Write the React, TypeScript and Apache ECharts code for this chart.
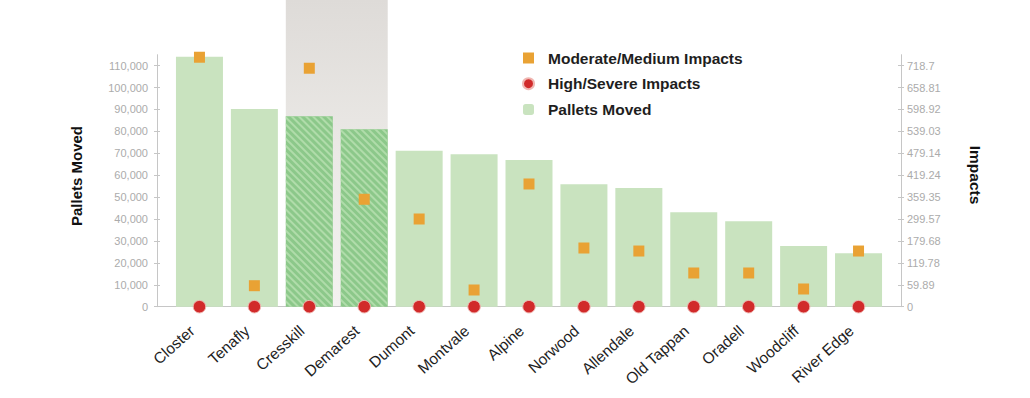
import React, { useEffect, useRef } from 'react';
import * as echarts from 'echarts';

const towns = ['Closter', 'Tenafly', 'Cresskill', 'Demarest', 'Dumont', 'Montvale', 'Alpine', 'Norwood', 'Allendale', 'Old Tappan', 'Oradell', 'Woodcliff', 'River Edge'];
const palletsMoved = [114100, 90200, 86900, 81000, 71200, 69550, 66950, 55850, 54200, 43100, 39000, 27700, 24400];
const moderateImpacts = [743.8, 62.6, 711, 320.3, 261.5, 49.8, 365.9, 175, 166, 100.5, 100.5, 52.8, 166];
const highImpacts = [0, 0, 0, 0, 0, 0, 0, 0, 0, 0, 0, 0, 0];
const highlightedTowns = ['Cresskill', 'Demarest'];
const palletTicks = [0, 10000, 20000, 30000, 40000, 50000, 60000, 70000, 80000, 90000, 100000, 110000];
const impactTickLabels = ['0', '59.89', '119.78', '179.68', '299.57', '359.35', '419.24', '479.14', '539.03', '598.92', '658.81', '718.7'];

const PALLET_MAX = 115000;
const IMPACT_TOP = 718.7;
const IMPACT_STEP = IMPACT_TOP / (impactTickLabels.length - 1);
const IMPACT_MAX = IMPACT_TOP * PALLET_MAX / palletTicks[palletTicks.length - 1];
const impactTicks = impactTickLabels.map((_, i) => i * IMPACT_STEP);

const FONT = '"Liberation Sans", Arial, Helvetica, sans-serif';
const GREEN = '#c9e3bf';
const GREEN_HATCH = '#8cc88a';
const ORANGE = '#e9a234';
const RED = '#d12a2a';
const AXIS = '#c6c6c6';
const LABEL = '#ababab';

export default function App() {
  const ref = useRef<HTMLDivElement>(null);

  useEffect(() => {
    const chart = echarts.init(ref.current!, null, { renderer: 'svg' });
    const gridTop = 54.7;
    const gridBottom = 91.3;

    const option: any = {
      animation: false,
      textStyle: { fontFamily: FONT },
      grid: [
        { left: 157, right: 129, top: gridTop, bottom: gridBottom },
        { left: 172, right: 144, top: gridTop, bottom: gridBottom },
      ],
      legend: {
        orient: 'vertical',
        left: 517,
        top: 45,
        itemWidth: 11,
        itemHeight: 11,
        itemGap: 9.7,
        data: ['Moderate/Medium Impacts', 'High/Severe Impacts', 'Pallets Moved'],
        textStyle: { fontFamily: FONT, fontSize: 15.5, fontWeight: 'bold', color: '#1e1e1e', lineHeight: 16, padding: [0, 0, 0, 9] },
      },
      xAxis: [
        {
          type: 'value', gridIndex: 0, min: 0, max: 1,
          axisLine: { show: true, onZero: false, lineStyle: { color: AXIS, width: 1 } },
          axisTick: { show: false }, axisLabel: { show: false }, splitLine: { show: false },
        },
        {
          type: 'category', gridIndex: 1, data: towns,
          axisLine: { show: false }, axisTick: { show: false }, splitLine: { show: false },
          axisLabel: { rotate: 42, margin: 15, padding: [0, 10, 0, 0], fontSize: 15.5, color: '#1e1e1e', fontFamily: FONT, interval: 0 },
        },
      ],
      yAxis: [
        {
          type: 'value', gridIndex: 0, position: 'left', min: 0, max: PALLET_MAX, interval: 10000,
          axisLine: { show: true, lineStyle: { color: AXIS } },
          axisTick: { show: true, length: 3, lineStyle: { color: AXIS }, customValues: palletTicks },
          axisLabel: { show: true, margin: 9, fontSize: 11, color: LABEL, fontFamily: FONT, customValues: palletTicks,
            formatter: (v: number) => v.toLocaleString('en-US') },
          splitLine: { show: false },
        },
        {
          type: 'value', gridIndex: 0, position: 'left', min: 0, max: PALLET_MAX, interval: 10000,
          axisLine: { show: false },
          axisTick: { show: true, inside: true, length: 3, lineStyle: { color: AXIS }, customValues: palletTicks },
          axisLabel: { show: false }, splitLine: { show: false },
        },
        {
          type: 'value', gridIndex: 0, position: 'right', min: 0, max: IMPACT_MAX,
          axisLine: { show: true, lineStyle: { color: AXIS } },
          axisTick: { show: true, length: 3, lineStyle: { color: AXIS }, customValues: impactTicks },
          axisLabel: { show: true, margin: 6, fontSize: 11, color: LABEL, fontFamily: FONT, customValues: impactTicks,
            formatter: (v: number) => impactTickLabels[Math.round(v / IMPACT_STEP)] ?? '' },
          splitLine: { show: false },
        },
        {
          type: 'value', gridIndex: 0, position: 'right', min: 0, max: IMPACT_MAX,
          axisLine: { show: false },
          axisTick: { show: true, inside: true, length: 3, lineStyle: { color: AXIS }, customValues: impactTicks },
          axisLabel: { show: false }, splitLine: { show: false },
        },
        { type: 'value', gridIndex: 1, min: 0, max: PALLET_MAX, show: false, splitLine: { show: false } },
        { type: 'value', gridIndex: 1, min: 0, max: IMPACT_MAX, show: false, splitLine: { show: false } },
      ],
      series: [
        {
          name: 'Pallets Moved', type: 'bar', xAxisIndex: 1, yAxisIndex: 4, barWidth: 47, z: 2,
          itemStyle: { color: GREEN },
          data: palletsMoved.map((v, i) =>
            highlightedTowns.includes(towns[i])
              ? {
                  value: v,
                  itemStyle: {
                    color: GREEN_HATCH,
                    decal: { symbol: 'rect', symbolSize: 1, color: '#b0dcaa', dashArrayX: [1, 0], dashArrayY: [2, 2.2], rotation: Math.PI / 4 },
                  },
                }
              : v
          ),
        },
        {
          name: 'Moderate/Medium Impacts', type: 'scatter', xAxisIndex: 1, yAxisIndex: 5, symbol: 'rect', symbolSize: 11, z: 4,
          itemStyle: { color: ORANGE, opacity: 1 },
          data: moderateImpacts,
        },
        {
          name: 'High/Severe Impacts', type: 'scatter', xAxisIndex: 1, yAxisIndex: 5, symbol: 'circle', symbolSize: 12.5, z: 5,
          itemStyle: { color: RED, opacity: 1, borderColor: '#f0b7b2', borderWidth: 1 },
          data: highImpacts,
        },
      ],
    };
    chart.setOption(option);

    const barHalf = 47 / 2;
    const xa = chart.convertToPixel({ xAxisIndex: 1 }, highlightedTowns[0]) as number;
    const xb = chart.convertToPixel({ xAxisIndex: 1 }, highlightedTowns[highlightedTowns.length - 1]) as number;
    const yBase = chart.convertToPixel({ yAxisIndex: 4 }, 0) as number;

    chart.setOption({
      graphic: [
        {
          type: 'rect', z: -10, silent: true,
          shape: { x: xa - barHalf, y: 0, width: xb - xa + 2 * barHalf, height: yBase },
          style: {
            fill: {
              type: 'linear', x: 0, y: 0, x2: 0, y2: 1,
              colorStops: [
                { offset: 0, color: '#dedbd8' },
                { offset: 0.5, color: '#ebe9e6' },
                { offset: 1, color: '#f3f2f0' },
              ],
            },
          },
        },
        {
          type: 'text', x: 76, y: 176, rotation: Math.PI / 2, z: 10,
          style: { text: 'Pallets Moved', fontFamily: FONT, fontSize: 15, fontWeight: 'bold', fill: '#111', align: 'center', verticalAlign: 'middle' },
        },
        {
          type: 'text', x: 975, y: 175, rotation: -Math.PI / 2, z: 10,
          style: { text: 'Impacts', fontFamily: FONT, fontSize: 15.5, fontWeight: 'bold', fill: '#111', align: 'center', verticalAlign: 'middle' },
        },
      ],
    });

    return () => chart.dispose();
  }, []);

  return <div ref={ref} style={{ position: 'fixed', left: 0, top: 0, width: 1030, height: 398, background: '#fff' }} />;
}
